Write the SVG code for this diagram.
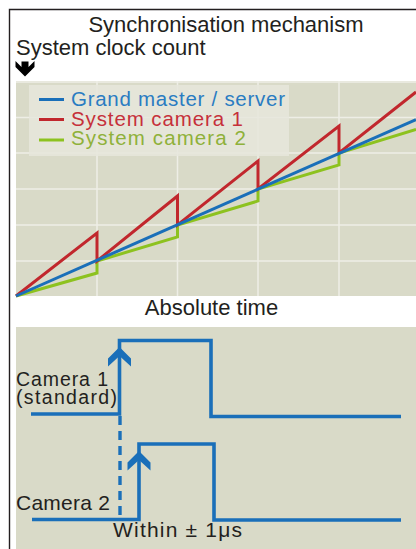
<svg xmlns="http://www.w3.org/2000/svg" width="416" height="549" viewBox="0 0 416 549">
  <style>
    .txt { font-family: "Liberation Sans", Arial, sans-serif; fill: #231f20; }
    .panel { fill: #d9dac8; }
    .grid { stroke: #eeeee6; stroke-width: 1.5; fill: none; }
    .blue { stroke: #1a6fb9; }
    .red { stroke: #c1272d; }
    .green { stroke: #8dc21f; }
    .trace { fill: none; stroke-width: 3; stroke-linejoin: miter; }
    .wave { fill: none; stroke: #1a6fb9; stroke-width: 3.6; stroke-linejoin: miter; }
  </style>
  <defs>
    <!-- upward chevron arrowhead, tip at origin -->
    <polygon id="chev" points="0,0 11.5,11.5 11.5,19.5 0,9 -11.5,19.5 -11.5,11.5" fill="#1a6fb9"/>
  </defs>

  <rect width="416" height="549" fill="#ffffff"/>

  <!-- outer frame -->
  <path d="M9.5,549 V9.5 H416" fill="none" stroke="#231f20" stroke-width="1.4"/>

  <!-- titles -->
  <text class="txt" x="226" y="32" font-size="22" text-anchor="middle">Synchronisation mechanism</text>
  <text class="txt" x="16" y="55" font-size="22">System clock count</text>
  <polygon points="25,76.5 34.5,67 34.5,61 28.5,67 28.5,61.5 21.5,61.5 21.5,67 15.5,61 15.5,67" fill="#000"/>

  <!-- clock count chart -->
  <g id="clock-chart">
    <rect class="panel" x="16" y="81" width="400" height="215"/>
    <g class="grid">
      <path d="M16,82 H416 M16,117.5 H416 M16,153 H416 M16,189 H416 M16,225 H416 M16,261 H416"/>
      <path d="M97,81 V296 M177.5,81 V296 M258,81 V296 M339,81 V296"/>
    </g>
    <g id="legend">
      <rect x="29" y="85" width="260" height="71" fill="#e6e6dc" opacity="0.85"/>
      <line class="blue" x1="39" y1="99.5" x2="64" y2="99.5" stroke-width="3"/>
      <line class="red" x1="39" y1="119.5" x2="64" y2="119.5" stroke-width="3"/>
      <line class="green" x1="39" y1="140" x2="64" y2="140" stroke-width="3"/>
      <text class="txt" x="71" y="106" font-size="20.5" textLength="214" style="fill:#2a7cc2">Grand master / server</text>
      <text class="txt" x="71" y="125.5" font-size="20.5" textLength="172" style="fill:#c6303a">System camera 1</text>
      <text class="txt" x="71" y="145" font-size="20.5" textLength="175" style="fill:#8fb13a">System camera 2</text>
    </g>
    <g id="traces">
      <polyline class="trace green" points="16,296 97,273 97,261 177.5,237 177.5,225 258,201 258,189 339,165 339,153 416,129.5"/>
      <polyline class="trace red" points="16,296 97,233 97,261 177.5,196 177.5,225 258,161 258,189 339,126 339,153 416,92"/>
      <line class="trace blue" x1="16" y1="296" x2="416" y2="119.5"/>
    </g>
  </g>

  <text class="txt" x="211.5" y="315" font-size="22" text-anchor="middle">Absolute time</text>

  <!-- trigger timing chart -->
  <g id="timing-chart">
    <rect class="panel" x="16" y="327" width="400" height="222"/>
    <line x1="120" y1="416" x2="120" y2="520" stroke="#1a6fb9" stroke-width="3.4" stroke-dasharray="9,6"/>
    <g id="camera1">
      <polyline class="wave" points="31,414 119.5,414 119.5,340.5 211,340.5 211,416.5 401,416.5"/>
      <use href="#chev" x="119.5" y="347"/>
      <text class="txt" x="16" y="386" font-size="19.5" textLength="92">Camera 1</text>
      <text class="txt" x="16" y="404" font-size="19.5" textLength="101">(standard)</text>
    </g>
    <g id="camera2">
      <polyline class="wave" points="32,519.5 139,519.5 139,444 214,444 214,520 401,520"/>
      <use href="#chev" x="139" y="451"/>
      <text class="txt" x="16" y="510" font-size="21" textLength="94">Camera 2</text>
    </g>
    <text class="txt" x="113" y="537" font-size="21" textLength="129">Within ± 1μs</text>
  </g>
</svg>
